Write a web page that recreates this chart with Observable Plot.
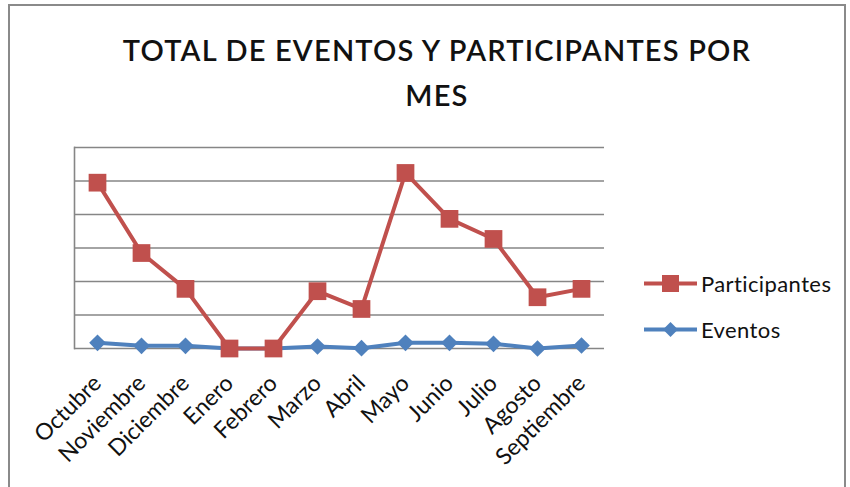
<!DOCTYPE html>
<html>
<head>
<meta charset="utf-8">
<script src="https://cdn.jsdelivr.net/npm/d3@7"></script>
<script src="https://cdn.jsdelivr.net/npm/@observablehq/plot@0.6"></script>
<style>
  html, body { margin: 0; padding: 0; background: #fff; }
  #wrap { position: relative; width: 850px; height: 487px; overflow: hidden; font-family: Lato, "Open Sans", sans-serif; }
  #border { position: absolute; left: 8px; top: 4px; width: 838px; height: 500px; border: 2px solid #8a8a8a; box-sizing: border-box; }
  #title { position: absolute; left: 0; top: 27px; width: 874px; text-align: center; font-size: 29px; letter-spacing: 1.2px; font-weight: 600; line-height: 45px; color: #111; }
  #legend { position: absolute; left: 644px; top: 260px; font-size: 22px; letter-spacing: 0.4px; color: #111; }
  .li { display: flex; align-items: center; height: 46px; }
  .li svg { margin-right: 3px; }
  #chart { position: absolute; left: 0; top: 0; }
</style>
</head>
<body>
<div id="wrap">
  <div id="border"></div>
  <div id="title">TOTAL DE EVENTOS Y PARTICIPANTES POR<br>MES</div>
  <div id="chart"></div>
  <div id="legend"></div>
</div>
<script>
const months = ["Octubre","Noviembre","Diciembre","Enero","Febrero","Marzo","Abril","Mayo","Junio","Julio","Agosto","Septiembre"];
const participantes = [495, 285, 178, 0, 0, 171, 118, 524, 387, 327, 153, 178];
const eventos = [17, 8, 8, 0, 0, 6, 1, 17, 17, 14, 0, 9];
const gridTicks = [0, 100, 200, 300, 400, 500, 600];
const seriesNames = ["Participantes", "Eventos"];
const colors = {Participantes: "#C0504D", Eventos: "#4F81BD"};

const pData = months.map((m, i) => ({mes: m, v: participantes[i]}));
const eData = months.map((m, i) => ({mes: m, v: eventos[i]}));

const chart = Plot.plot({
  width: 850,
  height: 487,
  marginTop: 147,
  marginLeft: 74,
  marginRight: 246,
  marginBottom: 139,
  style: {fontFamily: "Lato, 'Open Sans', sans-serif", fontSize: "23px", color: "#111", background: "transparent"},
  x: {type: "point", domain: months, padding: 0.5, label: null},
  y: {domain: [0, 600], label: null},
  marks: [
    Plot.ruleY(gridTicks, {stroke: "#868686", strokeWidth: 1.6}),
    Plot.frame({anchor: "left", stroke: "#868686", strokeWidth: 1.6}),
    Plot.axisX({tickSize: 0, tickPadding: 31, tickRotate: -45, fontSize: 23, label: null}),
    Plot.axisY({ticks: gridTicks, tickSize: 0, tickFormat: () => "", label: null}),
    Plot.lineY(eData, {x: "mes", y: "v", stroke: colors.Eventos, strokeWidth: 4}),
    Plot.dot(eData, {x: "mes", y: "v", symbol: "diamond2", r: 7.5, fill: colors.Eventos, stroke: null}),
    Plot.lineY(pData, {x: "mes", y: "v", stroke: colors.Participantes, strokeWidth: 4}),
    Plot.dot(pData, {x: "mes", y: "v", symbol: "square", r: 10, fill: colors.Participantes, stroke: null})
  ]
});
document.getElementById("chart").appendChild(chart);

const legend = document.getElementById("legend");
seriesNames.forEach(name => {
  const row = document.createElement("div");
  row.className = "li";
  const sym = name === "Participantes"
    ? '<rect x="18" y="2" width="17" height="17" fill="' + colors[name] + '"/>'
    : '<path d="M26.5 3 L34 10.5 L26.5 18 L19 10.5 Z" fill="' + colors[name] + '"/>';
  row.innerHTML = '<svg width="54" height="21"><line x1="0" y1="10.5" x2="53" y2="10.5" stroke="' + colors[name] + '" stroke-width="4"/>' + sym + '</svg><span>' + name + '</span>';
  legend.appendChild(row);
});
</script>
</body>
</html>
